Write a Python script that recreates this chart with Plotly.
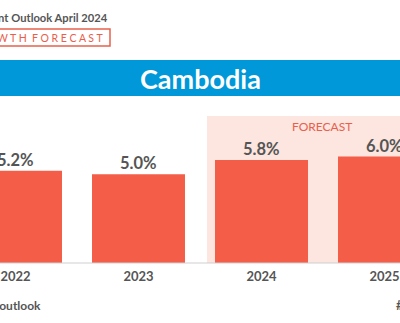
import plotly.graph_objects as go

# GDP growth, Cambodia (percent)
years = ["2022", "2023", "2024", "2025"]
growth = [5.2, 5.0, 5.8, 6.0]
forecast_years = ["2024", "2025"]

publication = "Asian Development Outlook April 2024"
chart_tag = "GDP GROWTH FORECAST"
country = "Cambodia"
footer_left = "adb.org/outlook"
footer_right = "#ADO2024"

BAR = "#F45D48"
SHADE = "#FDE5E0"
BLUE = "#0098D8"
GRAY = "#555555"
SALMON = "#E8604C"
FONT = "Lato"

W, H = 400, 323
BASE_PX = 263           # pixel row of the zero line
PX_PER_UNIT = 17.75


def py(px):
    """Pixel row -> paper y."""
    return 1 - px / H


def pxx(px):
    """Pixel column -> paper x."""
    return px / W


fig = go.Figure()
fig.add_trace(go.Bar(
    x=years, y=growth, marker=dict(color=BAR, line=dict(width=0)),
    hoverinfo="skip",
))

# value labels above bars (category index as x)
for i, v in enumerate(growth):
    fig.add_annotation(
        x=i, y=v, xref="x", yref="y", text=f"<b>{v:.1f}%</b>",
        showarrow=False, yanchor="bottom", yshift=-1,
        font=dict(family=FONT, size=16.5, color=GRAY),
    )

first_fc = years.index(forecast_years[0])
shapes = [
    # forecast shading
    dict(type="rect", xref="x", yref="paper",
         x0=first_fc - 0.443, x1=len(years) - 0.5,
         y0=py(BASE_PX), y1=py(116),
         fillcolor=SHADE, line=dict(width=0), layer="below"),
    # country banner
    dict(type="rect", xref="paper", yref="paper",
         x0=0, x1=1, y0=py(96), y1=py(60),
         fillcolor=BLUE, line=dict(width=0), layer="below"),
    # tag box
    dict(type="rect", xref="paper", yref="paper",
         x0=pxx(-60), x1=pxx(110), y0=py(46), y1=py(29),
         fillcolor="rgba(0,0,0,0)", line=dict(color=SALMON, width=1.5)),
    # baseline
    dict(type="line", xref="paper", yref="paper",
         x0=0, x1=1, y0=py(BASE_PX), y1=py(BASE_PX),
         line=dict(color="#CFCFCF", width=1)),
]

annotations = [
    dict(x=pxx(110), y=py(17.5), text=f"<b>{publication}</b>",
         xanchor="right", yanchor="middle",
         font=dict(family=FONT, size=11.2, color=GRAY)),
    dict(x=pxx(105), y=py(37.5), text="  ".join(" ".join(w) for w in chart_tag.split()),
         xanchor="right", yanchor="middle",
         font=dict(family=FONT, size=10.5, color=SALMON)),
    dict(x=0.5, y=py(78), text=f"<b>{country}</b>",
         xanchor="center", yanchor="middle",
         font=dict(family=FONT, size=27, color="white")),
    dict(x=pxx(322), y=py(126), text="FORECAST",
         xanchor="center", yanchor="middle",
         font=dict(family=FONT, size=12, color=SALMON)),
    dict(x=pxx(43), y=py(305), text=f"<b>{footer_left}</b>",
         xanchor="right", yanchor="middle",
         font=dict(family=FONT, size=12, color=GRAY)),
    dict(x=pxx(394), y=py(305), text=f"<b>{footer_right}</b>",
         xanchor="left", yanchor="middle",
         font=dict(family=FONT, size=12.5, color=GRAY)),
]
for a in annotations:
    a.update(xref="paper", yref="paper", showarrow=False)
    fig.add_annotation(**a)

fig.update_layout(
    width=W, height=H,
    margin=dict(l=0, r=0, t=0, b=0),
    paper_bgcolor="white", plot_bgcolor="rgba(0,0,0,0)",
    bargap=0.244, showlegend=False,
    shapes=shapes,
    xaxis=dict(
        type="category",
        range=[-0.126, 3.126], showgrid=False, zeroline=False, showline=False,
        ticks="", tickfont=dict(family=FONT, size=13, color=GRAY),
        ticklabelstandoff=4, fixedrange=True,
    ),
    yaxis=dict(
        domain=[1 - BASE_PX / H, 1], range=[0, BASE_PX / PX_PER_UNIT],
        visible=False, fixedrange=True,
    ),
)
fig.update_xaxes(tickprefix="<b>", ticksuffix="</b>")

fig.write_html("out.html", config=dict(displayModeBar=False))
